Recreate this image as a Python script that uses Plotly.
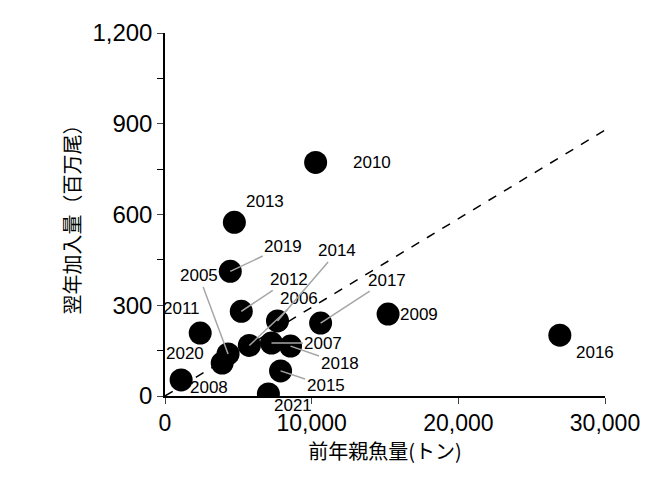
import plotly.graph_objects as go

years = ["2005","2006","2007","2008","2009","2010","2011","2012","2013","2014",
         "2015","2016","2017","2018","2019","2020","2021"]
spawn = [4300,5750,7260,1100,15210,10270,2400,5200,4730,7670,7880,26920,10610,8560,4450,3900,7050]
recruit = [139,167,175,53,271,772,208,280,574,248,83,201,241,165,412,109,7]
trend_x = [0, 30000]
trend_y = [0, 879]

offsets = {
 "2005":(-29,-78,True),"2006":(50,-47,True),"2007":(52,0,True),"2008":(28,8,False),
 "2009":(31,0,False),"2010":(56,0,False),"2011":(-19,-25,False),"2012":(48,-32,True),
 "2013":(31,-21,False),"2014":(60,-70,True),"2015":(45,15,True),"2016":(35,17,False),
 "2017":(66,-43,True),"2018":(49,17,True),"2019":(53,-25,True),"2020":(-37,-10,False),
 "2021":(25,12,False),
}

fig = go.Figure()
fig.add_trace(go.Scatter(x=trend_x, y=trend_y, mode="lines",
                         line=dict(color="black", dash="dash", width=1.5), showlegend=False))
fig.add_trace(go.Scatter(x=spawn, y=recruit, mode="markers",
                         marker=dict(color="black", size=23), showlegend=False))

for yr, xv, yv in zip(years, spawn, recruit):
    ax, ay, lead = offsets[yr]
    fig.add_annotation(x=xv, y=yv, text=yr, ax=ax, ay=ay, showarrow=True,
                       arrowhead=0, arrowwidth=1.5,
                       arrowcolor="#a6a6a6" if lead else "rgba(0,0,0,0)",
                       standoff=0, font=dict(size=17, color="black"))

cjk = "Noto Sans CJK JP, sans-serif"
fig.update_layout(
    width=649, height=479, plot_bgcolor="white", paper_bgcolor="white",
    margin=dict(l=157, r=52, t=25, b=91),
    font=dict(family="Liberation Sans, Arial, sans-serif", color="black"),
    xaxis=dict(range=[0, 30000], tickvals=[0,10000,20000,30000],
               ticktext=["0","10,000","20,000","30,000"],
               ticks="outside", ticklen=6, showline=True, linecolor="black", linewidth=1.5,
               showgrid=False, zeroline=False, tickfont=dict(size=23, color="black"),
               title=dict(text="前年親魚量(トン)", font=dict(size=20, family=cjk, color="black"), standoff=0)),
    yaxis=dict(range=[0, 1200], tickvals=[0,300,600,900,1200],
               ticktext=["0","300","600","900","1,200"],
               ticks="outside", ticklen=6, showline=True, linecolor="black", linewidth=1.5,
               showgrid=False, zeroline=False, tickfont=dict(size=24, color="black"),
               minor=dict(dtick=150, ticks="outside", ticklen=6, tickcolor="black"),
               title=dict(text="翌年加入量（百万尾）", font=dict(size=20, family=cjk, color="black"), standoff=6)),
)
fig.write_html("out.html")
